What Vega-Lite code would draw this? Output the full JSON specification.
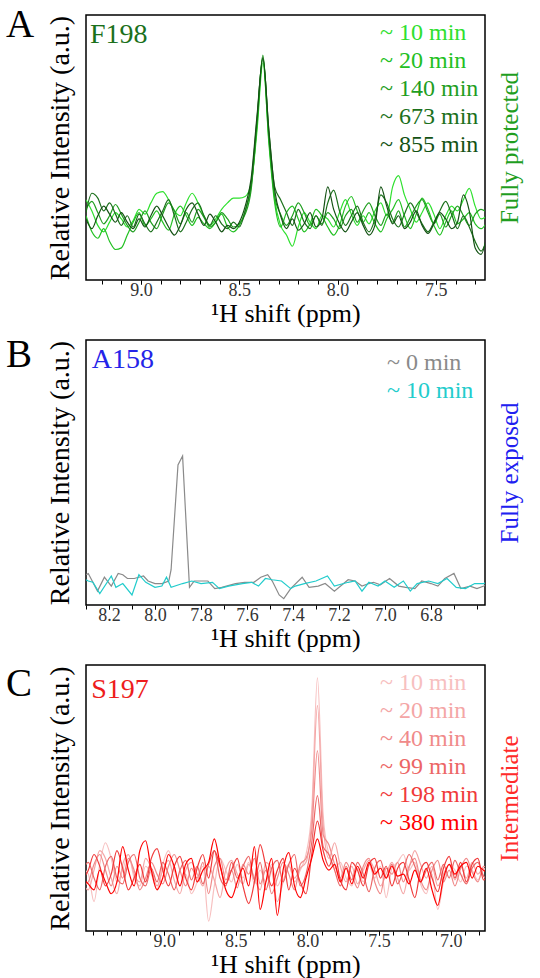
{
"$schema": "https://vega.github.io/schema/vega-lite/v6.json",
"padding": {"left": 5, "top": 5, "right": 10, "bottom": 2},
"bounds": "flush",
"spacing": 60,
"resolve": {"scale": {"color": "independent", "x": "independent", "y": "independent"}, "legend": {"color": "independent"}},
"config": {
  "font": "Liberation Serif, DejaVu Serif, serif",
  "view": {"stroke": "black", "strokeWidth": 1.5},
  "axis": {"grid": false, "domain": false, "labelFont": "Liberation Serif, DejaVu Serif, serif", "titleFont": "Liberation Serif, DejaVu Serif, serif", "titleFontWeight": "normal", "titleColor": "black", "labelColor": "#333333", "tickColor": "black", "labelFontSize": 18, "titleFontSize": 26, "minExtent": 0, "tickSize": 4, "labelPadding": 0, "titlePadding": 0, "labelOverlap": false, "labelFlush": false},
  "title": {"font": "Liberation Serif, DejaVu Serif, serif", "fontWeight": "normal", "fontSize": 39, "color": "black", "anchor": "start", "frame": "group", "offset": 0, "baseline": "alphabetic", "dx": -80},
  "legend": {"labelFont": "Liberation Serif, DejaVu Serif, serif"},
  "text": {"font": "Liberation Serif, DejaVu Serif, serif"}
},
"datasets": {
"A": [
{"s":"10","x":9.28,"y":0.12},{"s":"10","x":9.25,"y":0.05},{"s":"10","x":9.22,"y":-0.04},{"s":"10","x":9.19,"y":-0.08},{"s":"10","x":9.16,"y":-0.02},{"s":"10","x":9.13,"y":0.04},{"s":"10","x":9.1,"y":0.0},{"s":"10","x":9.07,"y":-0.05},{"s":"10","x":9.04,"y":-0.01},{"s":"10","x":9.01,"y":0.06},
{"s":"10","x":8.98,"y":0.03},{"s":"10","x":8.95,"y":0.1},{"s":"10","x":8.92,"y":0.16},{"s":"10","x":8.89,"y":0.17},{"s":"10","x":8.86,"y":0.12},{"s":"10","x":8.83,"y":0.05},{"s":"10","x":8.8,"y":0.02},{"s":"10","x":8.77,"y":0.1},{"s":"10","x":8.74,"y":0.16},{"s":"10","x":8.71,"y":0.1},
{"s":"10","x":8.68,"y":0.02},{"s":"10","x":8.65,"y":-0.04},{"s":"10","x":8.62,"y":0.0},{"s":"10","x":8.59,"y":0.06},{"s":"10","x":8.56,"y":0.1},{"s":"10","x":8.53,"y":0.13},{"s":"10","x":8.5,"y":0.13},{"s":"10","x":8.47,"y":0.14},{"s":"10","x":8.44,"y":0.22},{"s":"10","x":8.41,"y":0.55},
{"s":"10","x":8.38,"y":0.97},{"s":"10","x":8.35,"y":0.5},{"s":"10","x":8.32,"y":0.12},{"s":"10","x":8.29,"y":-0.04},{"s":"10","x":8.26,"y":-0.1},{"s":"10","x":8.23,"y":-0.17},{"s":"10","x":8.2,"y":-0.05},{"s":"10","x":8.17,"y":0.04},{"s":"10","x":8.14,"y":-0.02},{"s":"10","x":8.11,"y":-0.06},
{"s":"10","x":8.08,"y":0.02},{"s":"10","x":8.05,"y":0.0},{"s":"10","x":8.02,"y":-0.05},{"s":"10","x":7.99,"y":0.04},{"s":"10","x":7.96,"y":0.12},{"s":"10","x":7.93,"y":0.03},{"s":"10","x":7.9,"y":-0.04},{"s":"10","x":7.87,"y":0.02},{"s":"10","x":7.84,"y":-0.03},{"s":"10","x":7.81,"y":0.05},
{"s":"10","x":7.78,"y":0.1},{"s":"10","x":7.75,"y":0.02},{"s":"10","x":7.72,"y":0.2},{"s":"10","x":7.69,"y":0.27},{"s":"10","x":7.66,"y":0.15},{"s":"10","x":7.63,"y":0.06},{"s":"10","x":7.6,"y":-0.02},{"s":"10","x":7.57,"y":0.04},{"s":"10","x":7.54,"y":0.1},{"s":"10","x":7.51,"y":0.03},
{"s":"10","x":7.48,"y":-0.06},{"s":"10","x":7.45,"y":0.02},{"s":"10","x":7.42,"y":0.08},{"s":"10","x":7.39,"y":0.05},{"s":"10","x":7.36,"y":0.12},{"s":"10","x":7.33,"y":0.19},{"s":"10","x":7.3,"y":0.08},{"s":"10","x":7.27,"y":0.0},{"s":"10","x":7.24,"y":0.02},
{"s":"20","x":9.28,"y":0.02},{"s":"20","x":9.25,"y":-0.08},{"s":"20","x":9.22,"y":-0.12},{"s":"20","x":9.19,"y":-0.06},{"s":"20","x":9.16,"y":-0.14},{"s":"20","x":9.13,"y":-0.19},{"s":"20","x":9.1,"y":-0.18},{"s":"20","x":9.07,"y":-0.1},{"s":"20","x":9.04,"y":-0.02},{"s":"20","x":9.01,"y":0.04},
{"s":"20","x":8.98,"y":-0.04},{"s":"20","x":8.95,"y":0.0},{"s":"20","x":8.92,"y":0.05},{"s":"20","x":8.89,"y":-0.02},{"s":"20","x":8.86,"y":-0.07},{"s":"20","x":8.83,"y":0.03},{"s":"20","x":8.8,"y":0.08},{"s":"20","x":8.77,"y":0.02},{"s":"20","x":8.74,"y":-0.04},{"s":"20","x":8.71,"y":0.01},
{"s":"20","x":8.68,"y":-0.03},{"s":"20","x":8.65,"y":-0.06},{"s":"20","x":8.62,"y":-0.02},{"s":"20","x":8.59,"y":0.03},{"s":"20","x":8.56,"y":-0.05},{"s":"20","x":8.53,"y":-0.08},{"s":"20","x":8.5,"y":-0.04},{"s":"20","x":8.47,"y":0.05},{"s":"20","x":8.44,"y":0.2},{"s":"20","x":8.41,"y":0.58},
{"s":"20","x":8.38,"y":1.0},{"s":"20","x":8.35,"y":0.48},{"s":"20","x":8.32,"y":0.1},{"s":"20","x":8.29,"y":-0.05},{"s":"20","x":8.26,"y":0.04},{"s":"20","x":8.23,"y":0.08},{"s":"20","x":8.2,"y":0.0},{"s":"20","x":8.17,"y":-0.08},{"s":"20","x":8.14,"y":-0.03},{"s":"20","x":8.11,"y":0.06},
{"s":"20","x":8.08,"y":0.02},{"s":"20","x":8.05,"y":-0.05},{"s":"20","x":8.02,"y":-0.1},{"s":"20","x":7.99,"y":-0.04},{"s":"20","x":7.96,"y":0.08},{"s":"20","x":7.93,"y":0.14},{"s":"20","x":7.9,"y":0.05},{"s":"20","x":7.87,"y":-0.02},{"s":"20","x":7.84,"y":0.04},{"s":"20","x":7.81,"y":-0.03},
{"s":"20","x":7.78,"y":-0.08},{"s":"20","x":7.75,"y":0.0},{"s":"20","x":7.72,"y":0.06},{"s":"20","x":7.69,"y":0.12},{"s":"20","x":7.66,"y":0.02},{"s":"20","x":7.63,"y":-0.06},{"s":"20","x":7.6,"y":0.03},{"s":"20","x":7.57,"y":0.13},{"s":"20","x":7.54,"y":0.06},{"s":"20","x":7.51,"y":-0.04},
{"s":"20","x":7.48,"y":-0.1},{"s":"20","x":7.45,"y":-0.02},{"s":"20","x":7.42,"y":0.05},{"s":"20","x":7.39,"y":-0.03},{"s":"20","x":7.36,"y":0.0},{"s":"20","x":7.33,"y":0.04},{"s":"20","x":7.3,"y":-0.03},{"s":"20","x":7.27,"y":-0.06},{"s":"20","x":7.24,"y":-0.02},
{"s":"140","x":9.28,"y":0.06},{"s":"140","x":9.25,"y":0.11},{"s":"140","x":9.22,"y":0.04},{"s":"140","x":9.19,"y":-0.03},{"s":"140","x":9.16,"y":0.02},{"s":"140","x":9.13,"y":0.09},{"s":"140","x":9.1,"y":0.03},{"s":"140","x":9.07,"y":-0.04},{"s":"140","x":9.04,"y":-0.08},{"s":"140","x":9.01,"y":-0.02},
{"s":"140","x":8.98,"y":0.05},{"s":"140","x":8.95,"y":-0.02},{"s":"140","x":8.92,"y":-0.06},{"s":"140","x":8.89,"y":0.03},{"s":"140","x":8.86,"y":0.1},{"s":"140","x":8.83,"y":0.05},{"s":"140","x":8.8,"y":-0.03},{"s":"140","x":8.77,"y":0.04},{"s":"140","x":8.74,"y":-0.02},{"s":"140","x":8.71,"y":0.06},
{"s":"140","x":8.68,"y":0.01},{"s":"140","x":8.65,"y":-0.05},{"s":"140","x":8.62,"y":-0.02},{"s":"140","x":8.59,"y":0.04},{"s":"140","x":8.56,"y":0.0},{"s":"140","x":8.53,"y":-0.05},{"s":"140","x":8.5,"y":-0.03},{"s":"140","x":8.47,"y":0.03},{"s":"140","x":8.44,"y":0.18},{"s":"140","x":8.41,"y":0.6},
{"s":"140","x":8.38,"y":1.02},{"s":"140","x":8.35,"y":0.52},{"s":"140","x":8.32,"y":0.14},{"s":"140","x":8.29,"y":0.03},{"s":"140","x":8.26,"y":-0.04},{"s":"140","x":8.23,"y":0.02},{"s":"140","x":8.2,"y":0.1},{"s":"140","x":8.17,"y":0.04},{"s":"140","x":8.14,"y":-0.04},{"s":"140","x":8.11,"y":0.02},
{"s":"140","x":8.08,"y":-0.03},{"s":"140","x":8.05,"y":0.04},{"s":"140","x":8.02,"y":0.0},{"s":"140","x":7.99,"y":-0.06},{"s":"140","x":7.96,"y":0.02},{"s":"140","x":7.93,"y":0.06},{"s":"140","x":7.9,"y":-0.02},{"s":"140","x":7.87,"y":0.05},{"s":"140","x":7.84,"y":0.1},{"s":"140","x":7.81,"y":0.02},
{"s":"140","x":7.78,"y":-0.04},{"s":"140","x":7.75,"y":0.03},{"s":"140","x":7.72,"y":-0.02},{"s":"140","x":7.69,"y":0.05},{"s":"140","x":7.66,"y":-0.05},{"s":"140","x":7.63,"y":0.01},{"s":"140","x":7.6,"y":0.08},{"s":"140","x":7.57,"y":0.12},{"s":"140","x":7.54,"y":0.04},{"s":"140","x":7.51,"y":-0.03},
{"s":"140","x":7.48,"y":0.03},{"s":"140","x":7.45,"y":-0.05},{"s":"140","x":7.42,"y":0.02},{"s":"140","x":7.39,"y":0.08},{"s":"140","x":7.36,"y":0.02},{"s":"140","x":7.33,"y":-0.04},{"s":"140","x":7.3,"y":0.03},{"s":"140","x":7.27,"y":0.06},{"s":"140","x":7.24,"y":0.04},
{"s":"673","x":9.28,"y":0.04},{"s":"673","x":9.25,"y":0.16},{"s":"673","x":9.22,"y":0.13},{"s":"673","x":9.19,"y":0.05},{"s":"673","x":9.16,"y":0.1},{"s":"673","x":9.13,"y":0.03},{"s":"673","x":9.1,"y":-0.04},{"s":"673","x":9.07,"y":0.02},{"s":"673","x":9.04,"y":-0.05},{"s":"673","x":9.01,"y":0.03},
{"s":"673","x":8.98,"y":-0.03},{"s":"673","x":8.95,"y":-0.08},{"s":"673","x":8.92,"y":-0.02},{"s":"673","x":8.89,"y":0.05},{"s":"673","x":8.86,"y":0.12},{"s":"673","x":8.83,"y":0.02},{"s":"673","x":8.8,"y":-0.08},{"s":"673","x":8.77,"y":-0.02},{"s":"673","x":8.74,"y":0.06},{"s":"673","x":8.71,"y":0.1},
{"s":"673","x":8.68,"y":0.02},{"s":"673","x":8.65,"y":-0.04},{"s":"673","x":8.62,"y":0.02},{"s":"673","x":8.59,"y":-0.03},{"s":"673","x":8.56,"y":-0.06},{"s":"673","x":8.53,"y":-0.02},{"s":"673","x":8.5,"y":-0.05},{"s":"673","x":8.47,"y":0.05},{"s":"673","x":8.44,"y":0.22},{"s":"673","x":8.41,"y":0.62},
{"s":"673","x":8.38,"y":1.01},{"s":"673","x":8.35,"y":0.55},{"s":"673","x":8.32,"y":0.2},{"s":"673","x":8.29,"y":0.12},{"s":"673","x":8.26,"y":0.04},{"s":"673","x":8.23,"y":-0.04},{"s":"673","x":8.2,"y":0.06},{"s":"673","x":8.17,"y":-0.02},{"s":"673","x":8.14,"y":-0.06},{"s":"673","x":8.11,"y":0.02},
{"s":"673","x":8.08,"y":-0.04},{"s":"673","x":8.05,"y":0.1},{"s":"673","x":8.02,"y":0.18},{"s":"673","x":7.99,"y":0.05},{"s":"673","x":7.96,"y":-0.04},{"s":"673","x":7.93,"y":0.02},{"s":"673","x":7.9,"y":0.08},{"s":"673","x":7.87,"y":-0.02},{"s":"673","x":7.84,"y":-0.08},{"s":"673","x":7.81,"y":0.0},
{"s":"673","x":7.78,"y":0.15},{"s":"673","x":7.75,"y":0.1},{"s":"673","x":7.72,"y":0.0},{"s":"673","x":7.69,"y":-0.05},{"s":"673","x":7.66,"y":0.03},{"s":"673","x":7.63,"y":0.1},{"s":"673","x":7.6,"y":0.04},{"s":"673","x":7.57,"y":-0.03},{"s":"673","x":7.54,"y":-0.08},{"s":"673","x":7.51,"y":-0.02},
{"s":"673","x":7.48,"y":0.05},{"s":"673","x":7.45,"y":0.11},{"s":"673","x":7.42,"y":0.03},{"s":"673","x":7.39,"y":-0.06},{"s":"673","x":7.36,"y":0.02},{"s":"673","x":7.33,"y":-0.05},{"s":"673","x":7.3,"y":-0.14},{"s":"673","x":7.27,"y":-0.2},{"s":"673","x":7.24,"y":-0.12},
{"s":"855","x":9.28,"y":0.0},{"s":"855","x":9.25,"y":-0.06},{"s":"855","x":9.22,"y":0.02},{"s":"855","x":9.19,"y":0.08},{"s":"855","x":9.16,"y":0.03},{"s":"855","x":9.13,"y":-0.02},{"s":"855","x":9.1,"y":0.04},{"s":"855","x":9.07,"y":-0.02},{"s":"855","x":9.04,"y":-0.06},{"s":"855","x":9.01,"y":0.0},
{"s":"855","x":8.98,"y":-0.05},{"s":"855","x":8.95,"y":0.02},{"s":"855","x":8.92,"y":0.08},{"s":"855","x":8.89,"y":0.02},{"s":"855","x":8.86,"y":-0.05},{"s":"855","x":8.83,"y":-0.1},{"s":"855","x":8.8,"y":-0.04},{"s":"855","x":8.77,"y":0.06},{"s":"855","x":8.74,"y":0.1},{"s":"855","x":8.71,"y":0.03},
{"s":"855","x":8.68,"y":-0.04},{"s":"855","x":8.65,"y":0.03},{"s":"855","x":8.62,"y":-0.02},{"s":"855","x":8.59,"y":-0.08},{"s":"855","x":8.56,"y":-0.04},{"s":"855","x":8.53,"y":-0.06},{"s":"855","x":8.5,"y":-0.02},{"s":"855","x":8.47,"y":0.08},{"s":"855","x":8.44,"y":0.25},{"s":"855","x":8.41,"y":0.64},
{"s":"855","x":8.38,"y":1.0},{"s":"855","x":8.35,"y":0.56},{"s":"855","x":8.32,"y":0.18},{"s":"855","x":8.29,"y":0.02},{"s":"855","x":8.26,"y":-0.06},{"s":"855","x":8.23,"y":0.0},{"s":"855","x":8.2,"y":-0.07},{"s":"855","x":8.17,"y":-0.03},{"s":"855","x":8.14,"y":0.04},{"s":"855","x":8.11,"y":-0.05},
{"s":"855","x":8.08,"y":0.0},{"s":"855","x":8.05,"y":0.2},{"s":"855","x":8.02,"y":0.06},{"s":"855","x":7.99,"y":-0.03},{"s":"855","x":7.96,"y":-0.08},{"s":"855","x":7.93,"y":-0.02},{"s":"855","x":7.9,"y":0.04},{"s":"855","x":7.87,"y":-0.04},{"s":"855","x":7.84,"y":-0.1},{"s":"855","x":7.81,"y":-0.04},
{"s":"855","x":7.78,"y":0.2},{"s":"855","x":7.75,"y":0.08},{"s":"855","x":7.72,"y":-0.03},{"s":"855","x":7.69,"y":0.02},{"s":"855","x":7.66,"y":-0.06},{"s":"855","x":7.63,"y":-0.02},{"s":"855","x":7.6,"y":0.05},{"s":"855","x":7.57,"y":-0.04},{"s":"855","x":7.54,"y":-0.09},{"s":"855","x":7.51,"y":-0.03},
{"s":"855","x":7.48,"y":0.04},{"s":"855","x":7.45,"y":0.0},{"s":"855","x":7.42,"y":-0.06},{"s":"855","x":7.39,"y":-0.02},{"s":"855","x":7.36,"y":0.15},{"s":"855","x":7.33,"y":0.05},{"s":"855","x":7.3,"y":-0.18},{"s":"855","x":7.27,"y":-0.22},{"s":"855","x":7.24,"y":-0.1}
],
"B": [
{"s":"0","x":8.3,"y":0.06},{"s":"0","x":8.29,"y":0.07},{"s":"0","x":8.25,"y":-0.07},{"s":"0","x":8.22,"y":0.04},{"s":"0","x":8.19,"y":-0.03},{"s":"0","x":8.16,"y":0.07},{"s":"0","x":8.14,"y":0.06},{"s":"0","x":8.12,"y":0.03},{"s":"0","x":8.09,"y":0.03},{"s":"0","x":8.05,"y":0.05},
{"s":"0","x":8.03,"y":0.01},{"s":"0","x":8.0,"y":-0.01},{"s":"0","x":7.97,"y":-0.01},{"s":"0","x":7.94,"y":0.01},{"s":"0","x":7.93,"y":0.1},{"s":"0","x":7.9,"y":0.93},{"s":"0","x":7.88,"y":1.0},{"s":"0","x":7.85,"y":-0.04},{"s":"0","x":7.83,"y":0.01},{"s":"0","x":7.8,"y":0.01},
{"s":"0","x":7.77,"y":0.01},{"s":"0","x":7.74,"y":-0.05},{"s":"0","x":7.71,"y":-0.04},{"s":"0","x":7.65,"y":-0.01},{"s":"0","x":7.61,"y":0.0},{"s":"0","x":7.57,"y":0.0},{"s":"0","x":7.54,"y":0.04},{"s":"0","x":7.51,"y":0.06},{"s":"0","x":7.49,"y":0.01},{"s":"0","x":7.46,"y":-0.1},
{"s":"0","x":7.44,"y":-0.13},{"s":"0","x":7.41,"y":-0.05},{"s":"0","x":7.36,"y":0.04},{"s":"0","x":7.33,"y":-0.04},{"s":"0","x":7.29,"y":-0.03},{"s":"0","x":7.26,"y":-0.01},{"s":"0","x":7.22,"y":-0.07},{"s":"0","x":7.16,"y":0.02},{"s":"0","x":7.13,"y":0.01},{"s":"0","x":7.1,"y":-0.03},
{"s":"0","x":7.07,"y":-0.01},{"s":"0","x":7.05,"y":0.0},{"s":"0","x":7.02,"y":-0.02},{"s":"0","x":6.98,"y":0.03},{"s":"0","x":6.94,"y":-0.03},{"s":"0","x":6.91,"y":-0.04},{"s":"0","x":6.87,"y":-0.05},{"s":"0","x":6.84,"y":0.01},{"s":"0","x":6.8,"y":-0.01},{"s":"0","x":6.77,"y":-0.03},
{"s":"0","x":6.74,"y":0.03},{"s":"0","x":6.7,"y":0.07},{"s":"0","x":6.67,"y":-0.05},{"s":"0","x":6.63,"y":-0.03},{"s":"0","x":6.6,"y":-0.05},{"s":"0","x":6.57,"y":-0.03},{"s":"0","x":6.56,"y":-0.02},
{"s":"10","x":8.3,"y":0.02},{"s":"10","x":8.29,"y":0.01},{"s":"10","x":8.27,"y":0.0},{"s":"10","x":8.24,"y":-0.09},{"s":"10","x":8.19,"y":0.05},{"s":"10","x":8.17,"y":-0.04},{"s":"10","x":8.14,"y":-0.01},{"s":"10","x":8.1,"y":-0.1},{"s":"10","x":8.07,"y":0.06},{"s":"10","x":8.04,"y":0.0},
{"s":"10","x":8.0,"y":-0.04},{"s":"10","x":7.97,"y":-0.03},{"s":"10","x":7.95,"y":0.04},{"s":"10","x":7.93,"y":-0.04},{"s":"10","x":7.88,"y":-0.01},{"s":"10","x":7.84,"y":0.01},{"s":"10","x":7.8,"y":-0.01},{"s":"10","x":7.75,"y":0.0},{"s":"10","x":7.72,"y":-0.05},{"s":"10","x":7.68,"y":-0.03},
{"s":"10","x":7.62,"y":-0.01},{"s":"10","x":7.58,"y":0.0},{"s":"10","x":7.55,"y":-0.03},{"s":"10","x":7.52,"y":0.03},{"s":"10","x":7.49,"y":0.02},{"s":"10","x":7.45,"y":0.01},{"s":"10","x":7.41,"y":-0.05},{"s":"10","x":7.39,"y":-0.03},{"s":"10","x":7.35,"y":-0.01},{"s":"10","x":7.3,"y":0.01},
{"s":"10","x":7.25,"y":0.05},{"s":"10","x":7.22,"y":-0.03},{"s":"10","x":7.16,"y":0.0},{"s":"10","x":7.13,"y":0.01},{"s":"10","x":7.1,"y":-0.07},{"s":"10","x":7.07,"y":0.0},{"s":"10","x":7.03,"y":-0.03},{"s":"10","x":7.0,"y":0.01},{"s":"10","x":6.96,"y":-0.04},{"s":"10","x":6.92,"y":0.01},
{"s":"10","x":6.89,"y":-0.07},{"s":"10","x":6.86,"y":-0.01},{"s":"10","x":6.81,"y":0.01},{"s":"10","x":6.77,"y":-0.01},{"s":"10","x":6.73,"y":0.03},{"s":"10","x":6.69,"y":-0.04},{"s":"10","x":6.65,"y":-0.05},{"s":"10","x":6.61,"y":-0.01},{"s":"10","x":6.57,"y":-0.01},{"s":"10","x":6.56,"y":0.0}
],
"C": [
{"s":"10","x":9.57,"y":0.03},{"s":"10","x":9.53,"y":0.0},{"s":"10","x":9.49,"y":-0.14},{"s":"10","x":9.45,"y":0.05},{"s":"10","x":9.41,"y":0.16},{"s":"10","x":9.37,"y":0.08},{"s":"10","x":9.33,"y":-0.04},{"s":"10","x":9.29,"y":0.02},{"s":"10","x":9.25,"y":0.1},{"s":"10","x":9.21,"y":-0.02},{"s":"10","x":9.17,"y":-0.06},
{"s":"10","x":9.13,"y":0.04},{"s":"10","x":9.09,"y":0.0},{"s":"10","x":9.05,"y":-0.08},{"s":"10","x":9.01,"y":0.05},{"s":"10","x":8.97,"y":0.12},{"s":"10","x":8.93,"y":0.02},{"s":"10","x":8.89,"y":-0.06},{"s":"10","x":8.85,"y":0.0},{"s":"10","x":8.81,"y":-0.1},{"s":"10","x":8.77,"y":-0.04},
{"s":"10","x":8.73,"y":0.04},{"s":"10","x":8.69,"y":-0.24},{"s":"10","x":8.65,"y":-0.06},{"s":"10","x":8.61,"y":0.08},{"s":"10","x":8.57,"y":0.02},{"s":"10","x":8.53,"y":-0.04},{"s":"10","x":8.49,"y":0.05},{"s":"10","x":8.45,"y":-0.02},{"s":"10","x":8.41,"y":0.06},{"s":"10","x":8.37,"y":-0.05},
{"s":"10","x":8.33,"y":0.02},{"s":"10","x":8.29,"y":-0.04},{"s":"10","x":8.25,"y":0.05},{"s":"10","x":8.21,"y":-0.06},{"s":"10","x":8.17,"y":0.0},{"s":"10","x":8.13,"y":0.05},{"s":"10","x":8.09,"y":-0.04},{"s":"10","x":8.05,"y":0.02},{"s":"10","x":8.01,"y":0.1},{"s":"10","x":7.97,"y":0.32},
{"s":"10","x":7.93,"y":1.0},{"s":"10","x":7.89,"y":0.3},{"s":"10","x":7.85,"y":0.1},{"s":"10","x":7.81,"y":0.03},{"s":"10","x":7.77,"y":0.06},{"s":"10","x":7.73,"y":-0.02},{"s":"10","x":7.69,"y":-0.06},{"s":"10","x":7.65,"y":0.03},{"s":"10","x":7.61,"y":-0.04},{"s":"10","x":7.57,"y":0.05},
{"s":"10","x":7.53,"y":-0.02},{"s":"10","x":7.49,"y":0.04},{"s":"10","x":7.45,"y":-0.12},{"s":"10","x":7.41,"y":0.03},{"s":"10","x":7.37,"y":0.06},{"s":"10","x":7.33,"y":0.1},{"s":"10","x":7.29,"y":0.02},{"s":"10","x":7.25,"y":0.06},{"s":"10","x":7.21,"y":-0.05},{"s":"10","x":7.17,"y":-0.1},
{"s":"10","x":7.13,"y":0.0},{"s":"10","x":7.09,"y":-0.18},{"s":"10","x":7.05,"y":-0.04},{"s":"10","x":7.01,"y":0.05},{"s":"10","x":6.97,"y":0.02},{"s":"10","x":6.93,"y":-0.04},{"s":"10","x":6.89,"y":0.04},{"s":"10","x":6.85,"y":0.02},{"s":"10","x":6.81,"y":-0.03},{"s":"10","x":6.77,"y":0.02},{"s":"10","x":6.73,"y":0.03},
{"s":"20","x":9.57,"y":-0.05},{"s":"20","x":9.53,"y":-0.08},{"s":"20","x":9.49,"y":0.02},{"s":"20","x":9.45,"y":0.12},{"s":"20","x":9.41,"y":0.08},{"s":"20","x":9.37,"y":-0.02},{"s":"20","x":9.33,"y":-0.1},{"s":"20","x":9.29,"y":0.05},{"s":"20","x":9.25,"y":0.1},{"s":"20","x":9.21,"y":0.0},{"s":"20","x":9.17,"y":-0.04},
{"s":"20","x":9.13,"y":0.08},{"s":"20","x":9.09,"y":0.03},{"s":"20","x":9.05,"y":-0.06},{"s":"20","x":9.01,"y":0.02},{"s":"20","x":8.97,"y":0.07},{"s":"20","x":8.93,"y":-0.03},{"s":"20","x":8.89,"y":-0.1},{"s":"20","x":8.85,"y":0.02},{"s":"20","x":8.81,"y":0.06},{"s":"20","x":8.77,"y":0.0},
{"s":"20","x":8.73,"y":-0.06},{"s":"20","x":8.69,"y":0.04},{"s":"20","x":8.65,"y":-0.03},{"s":"20","x":8.61,"y":-0.12},{"s":"20","x":8.57,"y":0.02},{"s":"20","x":8.53,"y":0.07},{"s":"20","x":8.49,"y":0.0},{"s":"20","x":8.45,"y":-0.05},{"s":"20","x":8.41,"y":0.05},{"s":"20","x":8.37,"y":-0.02},
{"s":"20","x":8.33,"y":-0.08},{"s":"20","x":8.29,"y":0.06},{"s":"20","x":8.25,"y":0.02},{"s":"20","x":8.21,"y":-0.14},{"s":"20","x":8.17,"y":-0.04},{"s":"20","x":8.13,"y":0.04},{"s":"20","x":8.09,"y":-0.02},{"s":"20","x":8.05,"y":0.03},{"s":"20","x":8.01,"y":0.06},{"s":"20","x":7.97,"y":0.28},
{"s":"20","x":7.93,"y":0.86},{"s":"20","x":7.89,"y":0.25},{"s":"20","x":7.85,"y":0.08},{"s":"20","x":7.81,"y":0.16},{"s":"20","x":7.77,"y":0.04},{"s":"20","x":7.73,"y":-0.04},{"s":"20","x":7.69,"y":0.04},{"s":"20","x":7.65,"y":-0.05},{"s":"20","x":7.61,"y":0.02},{"s":"20","x":7.57,"y":0.07},
{"s":"20","x":7.53,"y":0.02},{"s":"20","x":7.49,"y":-0.06},{"s":"20","x":7.45,"y":0.0},{"s":"20","x":7.41,"y":0.06},{"s":"20","x":7.37,"y":-0.02},{"s":"20","x":7.33,"y":-0.1},{"s":"20","x":7.29,"y":0.03},{"s":"20","x":7.25,"y":0.12},{"s":"20","x":7.21,"y":0.05},{"s":"20","x":7.17,"y":-0.02},
{"s":"20","x":7.13,"y":0.04},{"s":"20","x":7.09,"y":-0.06},{"s":"20","x":7.05,"y":0.0},{"s":"20","x":7.01,"y":0.05},{"s":"20","x":6.97,"y":-0.03},{"s":"20","x":6.93,"y":0.04},{"s":"20","x":6.89,"y":-0.02},{"s":"20","x":6.85,"y":0.06},{"s":"20","x":6.81,"y":0.0},{"s":"20","x":6.77,"y":0.03},{"s":"20","x":6.73,"y":0.01},
{"s":"40","x":9.57,"y":-0.06},{"s":"40","x":9.53,"y":-0.04},{"s":"40","x":9.49,"y":0.05},{"s":"40","x":9.45,"y":0.1},{"s":"40","x":9.41,"y":0.02},{"s":"40","x":9.37,"y":-0.06},{"s":"40","x":9.33,"y":0.04},{"s":"40","x":9.29,"y":-0.02},{"s":"40","x":9.25,"y":0.08},{"s":"40","x":9.21,"y":0.02},{"s":"40","x":9.17,"y":-0.08},
{"s":"40","x":9.13,"y":-0.02},{"s":"40","x":9.09,"y":0.06},{"s":"40","x":9.05,"y":0.0},{"s":"40","x":9.01,"y":-0.05},{"s":"40","x":8.97,"y":0.04},{"s":"40","x":8.93,"y":0.1},{"s":"40","x":8.89,"y":0.02},{"s":"40","x":8.85,"y":-0.06},{"s":"40","x":8.81,"y":0.03},{"s":"40","x":8.77,"y":-0.02},
{"s":"40","x":8.73,"y":0.06},{"s":"40","x":8.69,"y":-0.1},{"s":"40","x":8.65,"y":0.04},{"s":"40","x":8.61,"y":0.08},{"s":"40","x":8.57,"y":-0.03},{"s":"40","x":8.53,"y":0.02},{"s":"40","x":8.49,"y":-0.07},{"s":"40","x":8.45,"y":0.05},{"s":"40","x":8.41,"y":0.0},{"s":"40","x":8.37,"y":0.08},
{"s":"40","x":8.33,"y":-0.05},{"s":"40","x":8.29,"y":0.02},{"s":"40","x":8.25,"y":-0.1},{"s":"40","x":8.21,"y":-0.02},{"s":"40","x":8.17,"y":0.06},{"s":"40","x":8.13,"y":0.0},{"s":"40","x":8.09,"y":-0.08},{"s":"40","x":8.05,"y":0.05},{"s":"40","x":8.01,"y":0.08},{"s":"40","x":7.97,"y":0.22},
{"s":"40","x":7.93,"y":0.63},{"s":"40","x":7.89,"y":0.2},{"s":"40","x":7.85,"y":0.15},{"s":"40","x":7.81,"y":0.05},{"s":"40","x":7.77,"y":-0.02},{"s":"40","x":7.73,"y":0.06},{"s":"40","x":7.69,"y":0.0},{"s":"40","x":7.65,"y":-0.07},{"s":"40","x":7.61,"y":0.04},{"s":"40","x":7.57,"y":0.08},
{"s":"40","x":7.53,"y":-0.04},{"s":"40","x":7.49,"y":-0.1},{"s":"40","x":7.45,"y":0.03},{"s":"40","x":7.41,"y":0.0},{"s":"40","x":7.37,"y":0.06},{"s":"40","x":7.33,"y":-0.04},{"s":"40","x":7.29,"y":0.04},{"s":"40","x":7.25,"y":0.08},{"s":"40","x":7.21,"y":-0.03},{"s":"40","x":7.17,"y":-0.08},
{"s":"40","x":7.13,"y":0.02},{"s":"40","x":7.09,"y":0.07},{"s":"40","x":7.05,"y":-0.04},{"s":"40","x":7.01,"y":0.02},{"s":"40","x":6.97,"y":-0.06},{"s":"40","x":6.93,"y":0.03},{"s":"40","x":6.89,"y":0.08},{"s":"40","x":6.85,"y":0.01},{"s":"40","x":6.81,"y":-0.04},{"s":"40","x":6.77,"y":0.04},{"s":"40","x":6.73,"y":0.02},
{"s":"99","x":9.57,"y":0.02},{"s":"99","x":9.53,"y":0.06},{"s":"99","x":9.49,"y":-0.02},{"s":"99","x":9.45,"y":-0.08},{"s":"99","x":9.41,"y":0.04},{"s":"99","x":9.37,"y":0.09},{"s":"99","x":9.33,"y":-0.02},{"s":"99","x":9.29,"y":-0.05},{"s":"99","x":9.25,"y":0.06},{"s":"99","x":9.21,"y":0.1},{"s":"99","x":9.17,"y":-0.02},
{"s":"99","x":9.13,"y":-0.06},{"s":"99","x":9.09,"y":0.03},{"s":"99","x":9.05,"y":-0.04},{"s":"99","x":9.01,"y":0.06},{"s":"99","x":8.97,"y":0.0},{"s":"99","x":8.93,"y":-0.08},{"s":"99","x":8.89,"y":0.02},{"s":"99","x":8.85,"y":0.07},{"s":"99","x":8.81,"y":-0.03},{"s":"99","x":8.77,"y":0.04},
{"s":"99","x":8.73,"y":-0.05},{"s":"99","x":8.69,"y":0.05},{"s":"99","x":8.65,"y":0.12},{"s":"99","x":8.61,"y":-0.02},{"s":"99","x":8.57,"y":-0.06},{"s":"99","x":8.53,"y":0.06},{"s":"99","x":8.49,"y":-0.02},{"s":"99","x":8.45,"y":0.04},{"s":"99","x":8.41,"y":0.09},{"s":"99","x":8.37,"y":-0.03},
{"s":"99","x":8.33,"y":0.06},{"s":"99","x":8.29,"y":-0.08},{"s":"99","x":8.25,"y":0.03},{"s":"99","x":8.21,"y":0.07},{"s":"99","x":8.17,"y":-0.04},{"s":"99","x":8.13,"y":0.05},{"s":"99","x":8.09,"y":0.1},{"s":"99","x":8.05,"y":-0.06},{"s":"99","x":8.01,"y":0.0},{"s":"99","x":7.97,"y":0.16},
{"s":"99","x":7.93,"y":0.4},{"s":"99","x":7.89,"y":0.14},{"s":"99","x":7.85,"y":0.1},{"s":"99","x":7.81,"y":0.02},{"s":"99","x":7.77,"y":-0.06},{"s":"99","x":7.73,"y":0.04},{"s":"99","x":7.69,"y":-0.03},{"s":"99","x":7.65,"y":0.06},{"s":"99","x":7.61,"y":0.0},{"s":"99","x":7.57,"y":-0.09},
{"s":"99","x":7.53,"y":0.03},{"s":"99","x":7.49,"y":0.07},{"s":"99","x":7.45,"y":-0.02},{"s":"99","x":7.41,"y":0.05},{"s":"99","x":7.37,"y":-0.05},{"s":"99","x":7.33,"y":0.02},{"s":"99","x":7.29,"y":0.1},{"s":"99","x":7.25,"y":0.04},{"s":"99","x":7.21,"y":-0.04},{"s":"99","x":7.17,"y":0.02},
{"s":"99","x":7.13,"y":0.06},{"s":"99","x":7.09,"y":-0.03},{"s":"99","x":7.05,"y":0.05},{"s":"99","x":7.01,"y":-0.02},{"s":"99","x":6.97,"y":0.07},{"s":"99","x":6.93,"y":0.0},{"s":"99","x":6.89,"y":-0.05},{"s":"99","x":6.85,"y":0.03},{"s":"99","x":6.81,"y":0.06},{"s":"99","x":6.77,"y":-0.01},{"s":"99","x":6.73,"y":-0.03},
{"s":"198","x":9.57,"y":-0.03},{"s":"198","x":9.53,"y":0.02},{"s":"198","x":9.49,"y":0.1},{"s":"198","x":9.45,"y":0.04},{"s":"198","x":9.41,"y":-0.06},{"s":"198","x":9.37,"y":0.0},{"s":"198","x":9.33,"y":0.12},{"s":"198","x":9.29,"y":0.03},{"s":"198","x":9.25,"y":-0.08},{"s":"198","x":9.21,"y":-0.02},{"s":"198","x":9.17,"y":0.05},
{"s":"198","x":9.13,"y":-0.04},{"s":"198","x":9.09,"y":0.08},{"s":"198","x":9.05,"y":0.13},{"s":"198","x":9.01,"y":0.02},{"s":"198","x":8.97,"y":-0.06},{"s":"198","x":8.93,"y":0.04},{"s":"198","x":8.89,"y":0.09},{"s":"198","x":8.85,"y":-0.02},{"s":"198","x":8.81,"y":-0.08},{"s":"198","x":8.77,"y":0.03},
{"s":"198","x":8.73,"y":0.1},{"s":"198","x":8.69,"y":-0.02},{"s":"198","x":8.65,"y":0.12},{"s":"198","x":8.61,"y":0.04},{"s":"198","x":8.57,"y":-0.05},{"s":"198","x":8.53,"y":0.02},{"s":"198","x":8.49,"y":0.08},{"s":"198","x":8.45,"y":-0.06},{"s":"198","x":8.41,"y":-0.15},{"s":"198","x":8.37,"y":-0.04},
{"s":"198","x":8.33,"y":0.15},{"s":"198","x":8.29,"y":0.04},{"s":"198","x":8.25,"y":-0.06},{"s":"198","x":8.21,"y":0.02},{"s":"198","x":8.17,"y":0.08},{"s":"198","x":8.13,"y":-0.08},{"s":"198","x":8.09,"y":0.03},{"s":"198","x":8.05,"y":-0.04},{"s":"198","x":8.01,"y":-0.1},{"s":"198","x":7.97,"y":0.1},
{"s":"198","x":7.93,"y":0.27},{"s":"198","x":7.89,"y":0.12},{"s":"198","x":7.85,"y":0.04},{"s":"198","x":7.81,"y":0.1},{"s":"198","x":7.77,"y":-0.03},{"s":"198","x":7.73,"y":-0.08},{"s":"198","x":7.69,"y":0.06},{"s":"198","x":7.65,"y":0.02},{"s":"198","x":7.61,"y":-0.06},{"s":"198","x":7.57,"y":0.05},
{"s":"198","x":7.53,"y":0.08},{"s":"198","x":7.49,"y":-0.02},{"s":"198","x":7.45,"y":0.04},{"s":"198","x":7.41,"y":-0.06},{"s":"198","x":7.37,"y":0.03},{"s":"198","x":7.33,"y":0.06},{"s":"198","x":7.29,"y":-0.03},{"s":"198","x":7.25,"y":-0.12},{"s":"198","x":7.21,"y":0.02},{"s":"198","x":7.17,"y":0.06},
{"s":"198","x":7.13,"y":-0.02},{"s":"198","x":7.09,"y":-0.09},{"s":"198","x":7.05,"y":0.03},{"s":"198","x":7.01,"y":0.09},{"s":"198","x":6.97,"y":-0.02},{"s":"198","x":6.93,"y":0.06},{"s":"198","x":6.89,"y":-0.04},{"s":"198","x":6.85,"y":0.05},{"s":"198","x":6.81,"y":0.08},{"s":"198","x":6.77,"y":-0.03},{"s":"198","x":6.73,"y":0.01},
{"s":"380","x":9.57,"y":-0.02},{"s":"380","x":9.53,"y":-0.05},{"s":"380","x":9.49,"y":-0.08},{"s":"380","x":9.45,"y":0.02},{"s":"380","x":9.41,"y":-0.04},{"s":"380","x":9.37,"y":-0.1},{"s":"380","x":9.33,"y":-0.04},{"s":"380","x":9.29,"y":0.14},{"s":"380","x":9.25,"y":0.02},{"s":"380","x":9.21,"y":-0.06},{"s":"380","x":9.17,"y":0.12},
{"s":"380","x":9.13,"y":0.17},{"s":"380","x":9.09,"y":0.02},{"s":"380","x":9.05,"y":-0.08},{"s":"380","x":9.01,"y":-0.02},{"s":"380","x":8.97,"y":0.1},{"s":"380","x":8.93,"y":0.04},{"s":"380","x":8.89,"y":-0.06},{"s":"380","x":8.85,"y":0.05},{"s":"380","x":8.81,"y":0.08},{"s":"380","x":8.77,"y":-0.04},
{"s":"380","x":8.73,"y":0.02},{"s":"380","x":8.69,"y":0.06},{"s":"380","x":8.65,"y":0.18},{"s":"380","x":8.61,"y":0.05},{"s":"380","x":8.57,"y":-0.08},{"s":"380","x":8.53,"y":-0.12},{"s":"380","x":8.49,"y":-0.04},{"s":"380","x":8.45,"y":0.03},{"s":"380","x":8.41,"y":-0.06},{"s":"380","x":8.37,"y":0.14},
{"s":"380","x":8.33,"y":-0.18},{"s":"380","x":8.29,"y":-0.04},{"s":"380","x":8.25,"y":0.08},{"s":"380","x":8.21,"y":-0.21},{"s":"380","x":8.17,"y":0.02},{"s":"380","x":8.13,"y":0.11},{"s":"380","x":8.09,"y":-0.06},{"s":"380","x":8.05,"y":-0.12},{"s":"380","x":8.01,"y":-0.02},{"s":"380","x":7.97,"y":0.08},
{"s":"380","x":7.93,"y":0.18},{"s":"380","x":7.89,"y":0.07},{"s":"380","x":7.85,"y":0.02},{"s":"380","x":7.81,"y":0.05},{"s":"380","x":7.77,"y":-0.04},{"s":"380","x":7.73,"y":0.03},{"s":"380","x":7.69,"y":-0.05},{"s":"380","x":7.65,"y":0.04},{"s":"380","x":7.61,"y":-0.02},{"s":"380","x":7.57,"y":0.06},
{"s":"380","x":7.53,"y":0.0},{"s":"380","x":7.49,"y":0.03},{"s":"380","x":7.45,"y":-0.02},{"s":"380","x":7.41,"y":0.04},{"s":"380","x":7.37,"y":-0.01},{"s":"380","x":7.33,"y":0.0},{"s":"380","x":7.29,"y":-0.05},{"s":"380","x":7.25,"y":0.02},{"s":"380","x":7.21,"y":-0.04},{"s":"380","x":7.17,"y":0.03},
{"s":"380","x":7.13,"y":-0.08},{"s":"380","x":7.09,"y":-0.16},{"s":"380","x":7.05,"y":-0.02},{"s":"380","x":7.01,"y":0.05},{"s":"380","x":6.97,"y":0.0},{"s":"380","x":6.93,"y":0.04},{"s":"380","x":6.89,"y":0.06},{"s":"380","x":6.85,"y":-0.02},{"s":"380","x":6.81,"y":0.04},{"s":"380","x":6.77,"y":0.02},{"s":"380","x":6.73,"y":0.0}
]
},
"vconcat": [
{
  "width": 399, "height": 265,
  "title": {"text": "A", "dy": 34},
  "layer": [
    {
      "data": {"name": "A"},
      "mark": {"type": "line", "interpolate": "monotone", "strokeWidth": 1.2, "clip": true},
      "encoding": {
        "x": {"field": "x", "type": "quantitative",
              "scale": {"domain": [7.25, 9.28], "reverse": true, "nice": false, "zero": false},
              "axis": {"orient": "bottom", "values": [9.0,8.5,8.0,7.5], "format": ".1f", "title": "¹H shift (ppm)", "labelFont": "Liberation Serif, DejaVu Serif, serif", "titleFont": "Liberation Serif, DejaVu Serif, serif", "labelFontSize": 18, "titleFontSize": 26, "labelPadding": -3, "titlePadding": 1,
                       "labelOverlap": false, "labelFlush": false, "ticks": true, "tickSize": 4, "tickWidth": 1, "tickColor": "black"}},
        "y": {"field": "y", "type": "quantitative", "scale": {"domain": [-0.38, 1.27], "nice": false, "zero": false},
              "axis": {"orient": "left", "title": "Relative Intensity (a.u.)", "titleFont": "Liberation Serif, DejaVu Serif, serif", "labels": false, "ticks": false, "titleFontSize": 28, "titlePadding": 12}},
        "color": {"field": "s", "type": "nominal",
                  "scale": {"domain": ["10","20","140","673","855"], "range": ["#2ee02e","#22c022","#1f9e1f","#1b701b","#145214"]},
                  "legend": {"title": null, "orient": "top-right", "offset": 6, "padding": 0, "labelFont": "Liberation Serif, DejaVu Serif, serif", "labelFontSize": 24, "labelExpr": "'~ ' + datum.label + ' min'",
                             "labelColor": {"expr": "datum.value == '10' ? '#2ee02e' : datum.value == '20' ? '#22c022' : datum.value == '140' ? '#1f9e1f' : datum.value == '673' ? '#1b701b' : '#145214'"},
                             "symbolSize": 0, "symbolOpacity": 0, "symbolStrokeWidth": 0, "symbolType": "circle", "labelOffset": 0, "rowPadding": 4, "labelLimit": 300}}
      }
    },
    {
      "data": {"values": [{"label": "F198"}]},
      "mark": {"type": "text", "align": "left", "baseline": "alphabetic", "dy": 28, "fontSize": 28, "color": "#1b701b"},
      "encoding": {
        "x": {"datum": 9.26, "type": "quantitative", "scale": {"domain": [7.25, 9.28], "reverse": true, "nice": false, "zero": false},
              "axis": {"orient": "bottom", "values": [9.2,9.1,9.0,8.9,8.8,8.7,8.6,8.5,8.4,8.3,8.2,8.1,8.0,7.9,7.8,7.7,7.6,7.5,7.4,7.3], "labels": false, "title": null, "ticks": true, "tickSize": 4, "tickWidth": 1, "tickColor": "black"}},
        "y": {"datum": 1, "type": "quantitative", "scale": {"domain": [0, 1], "nice": false},
              "axis": {"orient": "right", "title": "Fully protected", "titleFont": "Liberation Serif, DejaVu Serif, serif", "labels": false, "ticks": false, "titleColor": "#1f9e1f", "titleFontSize": 25, "titleAngle": 270, "titleBaseline": "top", "titlePadding": 12}},
        "text": {"field": "label"}
      }
    }
  ],
  "resolve": {"scale": {"y": "independent"}, "axis": {"x": "independent"}}
},
{
  "width": 399, "height": 265,
  "title": {"text": "B", "dy": 39},
  "layer": [
    {
      "data": {"name": "B"},
      "mark": {"type": "line", "strokeWidth": 1.2, "clip": true},
      "encoding": {
        "x": {"field": "x", "type": "quantitative",
              "scale": {"domain": [6.565, 8.3], "reverse": true, "nice": false, "zero": false},
              "axis": {"orient": "bottom", "values": [8.2,8.0,7.8,7.6,7.4,7.2,7.0,6.8], "format": ".1f", "title": "¹H shift (ppm)", "labelFont": "Liberation Serif, DejaVu Serif, serif", "titleFont": "Liberation Serif, DejaVu Serif, serif", "labelFontSize": 18, "titleFontSize": 26, "labelPadding": -3, "titlePadding": 1,
                       "labelOverlap": false, "labelFlush": false, "ticks": true, "tickSize": 4, "tickWidth": 1, "tickColor": "black"}},
        "y": {"field": "y", "type": "quantitative", "scale": {"domain": [-0.18, 1.92], "nice": false, "zero": false},
              "axis": {"orient": "left", "title": "Relative Intensity (a.u.)", "titleFont": "Liberation Serif, DejaVu Serif, serif", "labels": false, "ticks": false, "titleFontSize": 28, "titlePadding": 12}},
        "color": {"field": "s", "type": "nominal",
                  "scale": {"domain": ["0","10"], "range": ["#8a8a8a","#22cccc"]},
                  "legend": {"title": null, "orient": "top-right", "offset": 11, "padding": 0, "labelFont": "Liberation Serif, DejaVu Serif, serif", "labelFontSize": 24, "labelExpr": "'~ ' + datum.label + ' min'",
                             "labelColor": {"expr": "datum.value == '0' ? '#8a8a8a' : '#22cccc'"},
                             "symbolSize": 0, "symbolOpacity": 0, "symbolStrokeWidth": 0, "symbolType": "circle", "labelOffset": 0, "rowPadding": 4, "labelLimit": 300}}
      }
    },
    {
      "data": {"values": [{"label": "A158"}]},
      "mark": {"type": "text", "align": "left", "baseline": "alphabetic", "dy": 28, "fontSize": 28, "color": "#2424e8"},
      "encoding": {
        "x": {"datum": 8.275, "type": "quantitative", "scale": {"domain": [6.565, 8.3], "reverse": true, "nice": false, "zero": false},
              "axis": {"orient": "bottom", "values": [8.3,8.2,8.1,8.0,7.9,7.8,7.7,7.6,7.5,7.4,7.3,7.2,7.1,7.0,6.9,6.8,6.7,6.6], "labels": false, "title": null, "ticks": true, "tickSize": 4, "tickWidth": 1, "tickColor": "black"}},
        "y": {"datum": 1, "type": "quantitative", "scale": {"domain": [0, 1], "nice": false},
              "axis": {"orient": "right", "title": "Fully exposed", "titleFont": "Liberation Serif, DejaVu Serif, serif", "labels": false, "ticks": false, "titleColor": "#2020f0", "titleFontSize": 25, "titleAngle": 270, "titleBaseline": "top", "titlePadding": 12}},
        "text": {"field": "label"}
      }
    }
  ],
  "resolve": {"scale": {"y": "independent"}, "axis": {"x": "independent"}}
},
{
  "width": 399, "height": 266,
  "title": {"text": "C", "dy": 43},
  "layer": [
    {
      "data": {"name": "C"},
      "mark": {"type": "line", "interpolate": "monotone", "strokeWidth": 1.2, "clip": true},
      "encoding": {
        "x": {"field": "x", "type": "quantitative",
              "scale": {"domain": [6.76, 9.546], "reverse": true, "nice": false, "zero": false},
              "axis": {"orient": "bottom", "values": [9.0,8.5,8.0,7.5,7.0], "format": ".1f", "title": "¹H shift (ppm)", "labelFont": "Liberation Serif, DejaVu Serif, serif", "titleFont": "Liberation Serif, DejaVu Serif, serif", "labelFontSize": 18, "titleFontSize": 26, "labelPadding": -3, "titlePadding": 1,
                       "labelOverlap": false, "labelFlush": false, "ticks": true, "tickSize": 4, "tickWidth": 1, "tickColor": "black"}},
        "y": {"field": "y", "type": "quantitative", "scale": {"domain": [-0.29, 1.066], "nice": false, "zero": false},
              "axis": {"orient": "left", "title": "Relative Intensity (a.u.)", "titleFont": "Liberation Serif, DejaVu Serif, serif", "labels": false, "ticks": false, "titleFontSize": 28, "titlePadding": 12}},
        "color": {"field": "s", "type": "nominal",
                  "scale": {"domain": ["10","20","40","99","198","380"], "range": ["#f7c0c0","#f4a6a6","#f08a8a","#ec6666","#f03a3a","#ff0000"]},
                  "legend": {"title": null, "orient": "top-right", "offset": 6, "padding": 0, "labelFont": "Liberation Serif, DejaVu Serif, serif", "labelFontSize": 24, "labelExpr": "'~ ' + datum.label + ' min'",
                             "labelColor": {"expr": "datum.value == '10' ? '#f7c0c0' : datum.value == '20' ? '#f4a6a6' : datum.value == '40' ? '#f08a8a' : datum.value == '99' ? '#ec6666' : datum.value == '198' ? '#f03a3a' : '#ff0000'"},
                             "symbolSize": 0, "symbolOpacity": 0, "symbolStrokeWidth": 0, "symbolType": "circle", "labelOffset": 0, "rowPadding": 4, "labelLimit": 300}}
      }
    },
    {
      "data": {"values": [{"label": "S197"}]},
      "mark": {"type": "text", "align": "left", "baseline": "alphabetic", "dy": 33, "fontSize": 28, "color": "#ee1c1c"},
      "encoding": {
        "x": {"datum": 9.51, "type": "quantitative", "scale": {"domain": [6.76, 9.546], "reverse": true, "nice": false, "zero": false},
              "axis": {"orient": "bottom", "values": [9.5,9.4,9.3,9.2,9.1,9.0,8.9,8.8,8.7,8.6,8.5,8.4,8.3,8.2,8.1,8.0,7.9,7.8,7.7,7.6,7.5,7.4,7.3,7.2,7.1,7.0,6.9,6.8], "labels": false, "title": null, "ticks": true, "tickSize": 4, "tickWidth": 1, "tickColor": "black"}},
        "y": {"datum": 1, "type": "quantitative", "scale": {"domain": [0, 1], "nice": false},
              "axis": {"orient": "right", "title": "Intermediate", "titleFont": "Liberation Serif, DejaVu Serif, serif", "labels": false, "ticks": false, "titleColor": "#ff2a2a", "titleFontSize": 25, "titleAngle": 270, "titleBaseline": "top", "titlePadding": 12}},
        "text": {"field": "label"}
      }
    }
  ],
  "resolve": {"scale": {"y": "independent"}, "axis": {"x": "independent"}}
}
]
}
